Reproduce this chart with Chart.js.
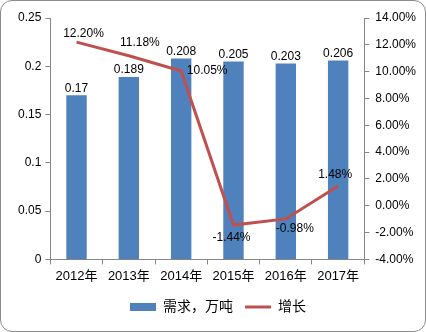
<!DOCTYPE html>
<html>
<head>
<meta charset="utf-8">
<script src="https://cdn.jsdelivr.net/npm/chart.js@4.4.1/dist/chart.umd.min.js"></script>
<style>
    html, body { margin: 0; padding: 0; background: #fff; }
    #frame {
        width: 426px; height: 332px; box-sizing: border-box;
        border: 1px solid #8c8c8c; border-radius: 12px; overflow: hidden;
    }
    #chart { display: block; }
</style>
</head>
<body>
<div id="frame"><canvas id="chart" width="424" height="330"></canvas></div>
<script>
// Demand (10k tonnes) and year-over-year growth (%)
const years = ['2012年', '2013年', '2014年', '2015年', '2016年', '2017年'];
const demand = [0.17, 0.189, 0.208, 0.205, 0.203, 0.206];
const growth = [12.20, 11.18, 10.05, -1.44, -0.98, 1.48];

const BAR_COLOR = '#4f81bd';
const LINE_COLOR = '#c0504d';
const AXIS_COLOR = '#868686';
const FONT = '"Liberation Sans", "Noto Sans CJK SC", sans-serif';

// where each growth label sits relative to its point
const growthLabelOffsets = [[7, -8], [11, -13], [26, 0], [-2, 13], [9, 10], [-3, -11]];

const valueLabels = {
    id: 'valueLabels',
    afterDatasetsDraw(chart) {
        const ctx = chart.ctx;
        const lineIdx = chart.data.datasets.findIndex(ds => ds.type === 'line');
        const barIdx = 1 - lineIdx;
        ctx.save();
        ctx.font = '12px ' + FONT;
        ctx.fillStyle = '#000';
        ctx.textAlign = 'center';

        // bar values just above each bar
        ctx.textBaseline = 'bottom';
        chart.getDatasetMeta(barIdx).data.forEach((bar, i) => {
            ctx.fillText(String(demand[i]), bar.x, bar.y - 1);
        });

        // growth percentages around the line points
        ctx.textBaseline = 'middle';
        chart.getDatasetMeta(lineIdx).data.forEach((pt, i) => {
            const [dx, dy] = growthLabelOffsets[i];
            ctx.fillText(growth[i].toFixed(2) + '%', pt.x + dx, pt.y + dy);
        });
        ctx.restore();
    }
};

const axisTicks = { color: '#000', font: { family: FONT, size: 12 } };

new Chart(document.getElementById('chart'), {
    type: 'bar',
    data: {
        labels: years,
        datasets: [
            {
                type: 'line',
                label: '增长',
                data: growth,
                yAxisID: 'y1',
                borderColor: LINE_COLOR,
                backgroundColor: LINE_COLOR,
                borderWidth: 3,
                pointRadius: 0,
                tension: 0,
                order: 0
            },
            {
                label: '需求，万吨',
                data: demand,
                yAxisID: 'y',
                backgroundColor: BAR_COLOR,
                borderWidth: 0,
                categoryPercentage: 1,
                barPercentage: 0.39,
                order: 1
            }
        ]
    },
    options: {
        responsive: false,
        animation: false,
        layout: { padding: { top: 17, right: 3, left: 13, bottom: 7 } },
        plugins: {
            tooltip: { enabled: false },
            legend: {
                position: 'bottom',
                reverse: true,
                labels: {
                    usePointStyle: true,
                    pointStyleWidth: 26,
                    boxHeight: 8,
                    padding: 12,
                    color: '#000',
                    font: { family: FONT, size: 14 },
                    generateLabels(chart) {
                        return chart.data.datasets.map((ds, i) => ({
                            text: ds.label,
                            datasetIndex: i,
                            fillStyle: ds.backgroundColor,
                            strokeStyle: ds.type === 'line' ? ds.borderColor : ds.backgroundColor,
                            lineWidth: ds.type === 'line' ? 3 : 0,
                            pointStyle: ds.type === 'line' ? 'line' : 'rect',
                            hidden: false
                        }));
                    }
                }
            }
        },
        scales: {
            x: {
                offset: true,
                grid: {
                    offset: true,
                    drawOnChartArea: false,
                    drawTicks: true,
                    tickLength: 5,
                    color: AXIS_COLOR
                },
                border: { color: AXIS_COLOR },
                ticks: { ...axisTicks, font: { family: FONT, size: 13 }, padding: 4, maxRotation: 0 }
            },
            y: {
                position: 'left',
                min: 0,
                max: 0.25,
                grid: { drawOnChartArea: false, tickLength: 5, color: AXIS_COLOR },
                border: { color: AXIS_COLOR },
                ticks: { ...axisTicks, stepSize: 0.05, padding: 4, callback: v => String(parseFloat(v.toFixed(2))) }
            },
            y1: {
                position: 'right',
                min: -4,
                max: 14,
                grid: { drawOnChartArea: false, tickLength: 5, color: AXIS_COLOR },
                border: { color: AXIS_COLOR },
                ticks: { ...axisTicks, stepSize: 2, padding: 6, callback: v => v.toFixed(2) + '%' }
            }
        }
    },
    plugins: [valueLabels]
});
</script>
</body>
</html>
